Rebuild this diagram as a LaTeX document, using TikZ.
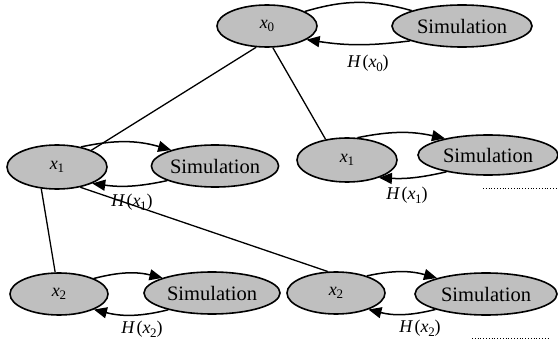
\documentclass[tikz,border=0pt]{standalone}
\usepackage{fontspec}
\setmainfont{Liberation Serif}
\usetikzlibrary{shapes.geometric,arrows.meta}
\newcommand{\vx}[1]{\textit{x}\kern-0.3pt\raisebox{-0.45ex}{\fontsize{13}{13}\selectfont #1}}
\newcommand{\Hx}[1]{\textit{H}\kern1.5pt(\vx{#1})}
\tikzset{
  stateell/.style={ellipse, draw=black, line width=1.6pt, fill=black!25, inner sep=0pt,
    font=\fontsize{18}{20}\selectfont},
  simell/.style={ellipse, draw=black, line width=1.6pt, fill=black!25, inner sep=0pt,
    font=\fontsize{20.5}{22}\selectfont},
  link/.style={line width=1.3pt},
  loop/.style={line width=1.5pt},
  tip/.style={-{Triangle[length=13pt,width=11pt]}},
  hlabel/.style={font=\fontsize{18}{20}\selectfont, inner sep=0pt},
  dotline/.style={dotted, line width=0.8pt}
}
\begin{document}
\begin{tikzpicture}[x=1pt,y=-1pt]
\useasboundingbox (0,0) rectangle (558,345);

% nodes
\node[stateell, minimum width=100pt, minimum height=42pt] (x0) at (267,26) {\vx{0}};
\node[simell, minimum width=140pt, minimum height=42pt] (s0) at (462,26) {Simulation};
\node[stateell, minimum width=100pt, minimum height=44pt] (x1) at (57,167) {\vx{1}};
\node[simell, minimum width=126pt, minimum height=42pt] (s1) at (215,166) {Simulation};
\node[stateell, minimum width=100pt, minimum height=44pt] (x1r) at (347,160) {\vx{1}};
\node[simell, minimum width=140pt, minimum height=40pt] (s1r) at (488,155) {Simulation};
\node[stateell, minimum width=98pt, minimum height=42pt] (x2) at (59,294) {\vx{2}};
\node[simell, minimum width=136pt, minimum height=42pt] (s2) at (212,293) {Simulation};
\node[stateell, minimum width=98pt, minimum height=42pt] (x2r) at (336,293) {\vx{2}};
\node[simell, minimum width=142pt, minimum height=42pt] (s2r) at (486,294) {Simulation};

% tree links
\draw[link] (x0.243) -- (x1.26);
\draw[link] (x0.285) -- (x1r.136);
\draw[link] (x1.234) -- (x2.100);
\draw[link] (x1.319) -- (x2r.111);

% simulation loops
\draw[loop] (x0.21) to[bend left=16] (s0.163);
\draw[loop,tip] (s0.196) to[bend left=8] (x0.341);
\draw[loop,tip] (x1.40) to[bend left=14] (s1.160);
\draw[loop,tip] (s1.197) to[bend left=10] (x1.335);
\draw[loop,tip] (x1r.65) to[bend left=12] (s1r.159);
\draw[loop,tip] (s1r.202) to[bend left=8] (x1r.331);
\draw[loop,tip] (x2.24) to[bend left=14] (s2.163);
\draw[loop,tip] (s2.201) to[bend left=14] (x2.336);
\draw[loop,tip] (x2r.29) to[bend left=14] (s2r.162);
\draw[loop,tip] (s2r.197) to[bend left=14] (x2r.333);

% labels
\node[hlabel] (h0) at (368,63) {\Hx{0}};
\node[hlabel] (h1) at (132,202) {\Hx{1}};
\node[hlabel] (h1r) at (407,195) {\Hx{1}};
\node[hlabel] (h2) at (142,329) {\Hx{2}};
\node[hlabel] (h2r) at (420,328) {\Hx{2}};

% dotted continuation marks
\coordinate (d1a) at (483,188);
\coordinate (d1b) at (558,188);
\coordinate (d2a) at (472,338);
\coordinate (d2b) at (548,338);
\draw[dotline] (d1a) -- (d1b);
\draw[dotline] (d2a) -- (d2b);
\end{tikzpicture}
\end{document}
